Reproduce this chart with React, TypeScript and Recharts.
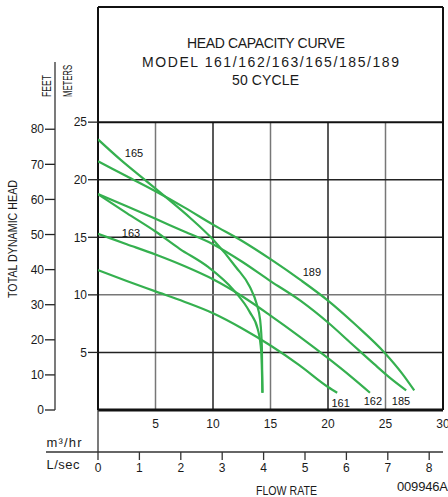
import { LineChart, Line, XAxis, YAxis, ReferenceLine, ReferenceDot } from 'recharts';

const M3_PER_LS = 3.6;
const FT_PER_M = 3.28084;
const TOP_M = 35; // meters at top of the title box

const flowTicks = [5, 10, 15, 20, 25, 30];
const litreTicks = [0, 1, 2, 3, 4, 5, 6, 7, 8];
const meterTicks = [5, 10, 15, 20, 25];
const feetTicks = [0, 10, 20, 30, 40, 50, 60, 70, 80];
const gridFlow = [5, 10, 15, 20, 25];
const gridHead = [5, 10, 15, 20];

// flow m3/hr -> head m
const model165 = [
  { x: 0, y: 23.5 }, { x: 2, y: 21.7 }, { x: 4, y: 20.05 }, { x: 6, y: 18.4 },
  { x: 8, y: 16.7 }, { x: 10, y: 14.8 }, { x: 12, y: 12.4 }, { x: 13.2, y: 10.7 },
  { x: 13.8, y: 9.2 }, { x: 14.1, y: 7.8 }, { x: 14.25, y: 5.5 }, { x: 14.3, y: 1.5 },
];
const model163 = [
  { x: 0, y: 18.75 }, { x: 2.5, y: 17.1 }, { x: 5, y: 15.5 }, { x: 7.1, y: 14.0 },
  { x: 9.6, y: 12.4 }, { x: 11.8, y: 10.4 }, { x: 13.2, y: 8.5 }, { x: 13.9, y: 7.0 },
  { x: 14.2, y: 5.0 }, { x: 14.3, y: 1.5 },
];
const model189 = [
  { x: 0, y: 21.6 }, { x: 2.5, y: 20.3 }, { x: 5, y: 19.0 }, { x: 7.5, y: 17.6 },
  { x: 10, y: 16.1 }, { x: 12.5, y: 14.7 }, { x: 15, y: 13.1 }, { x: 17.6, y: 11.3 },
  { x: 20, y: 9.5 }, { x: 22.4, y: 7.4 }, { x: 24.9, y: 5.0 }, { x: 26.5, y: 3.1 },
  { x: 27.5, y: 1.7 },
];
const model185 = [
  { x: 0, y: 18.75 }, { x: 2.5, y: 17.7 }, { x: 5, y: 16.6 }, { x: 7.5, y: 15.5 },
  { x: 10, y: 14.4 }, { x: 12.5, y: 12.9 }, { x: 15, y: 11.2 }, { x: 17.6, y: 9.5 },
  { x: 20, y: 7.6 }, { x: 22, y: 5.8 }, { x: 24, y: 4.0 }, { x: 25.5, y: 2.7 },
  { x: 26.8, y: 1.7 },
];
const model162 = [
  { x: 0, y: 15.3 }, { x: 2.5, y: 14.4 }, { x: 5, y: 13.5 }, { x: 7.5, y: 12.5 },
  { x: 10, y: 11.35 }, { x: 12.5, y: 9.9 }, { x: 15, y: 8.2 }, { x: 17.5, y: 6.4 },
  { x: 20, y: 4.5 }, { x: 22, y: 2.9 }, { x: 23.65, y: 1.5 },
];
const model161 = [
  { x: 0, y: 12.15 }, { x: 2.5, y: 11.2 }, { x: 5, y: 10.3 }, { x: 7.5, y: 9.4 },
  { x: 10, y: 8.4 }, { x: 12.5, y: 7.1 }, { x: 15, y: 5.6 }, { x: 17.5, y: 3.9 },
  { x: 20, y: 2.0 }, { x: 20.8, y: 1.5 },
];

const curves = [
  { name: '165', data: model165 },
  { name: '163', data: model163 },
  { name: '189', data: model189 },
  { name: '185', data: model185 },
  { name: '162', data: model162 },
  { name: '161', data: model161 },
];

const curveLabels = [
  { text: '165', x: 3.13, y: 22.3 },
  { text: '163', x: 2.87, y: 15.4 },
  { text: '189', x: 18.6, y: 12.0 },
  { text: '161', x: 21.1, y: 0.6 },
  { text: '162', x: 23.9, y: 0.8 },
  { text: '185', x: 26.35, y: 0.8 },
];

// spans the secondary (L/sec, feet) scales so those axes get a domain
const secondaryRange = [
  { x: 0, y: 0 },
  { x: 30 / M3_PER_LS, y: TOP_M * FT_PER_M },
];

const GREEN = '#35b04f';
const font = "'Liberation Sans', Arial, sans-serif";
const tickStyle = { fontSize: 12, fill: '#1a1a1a', fontFamily: font };

export default function App() {
  return (
    <div style={{ position: 'absolute', left: 0, top: 0, width: 448, height: 497, background: '#fff' }}>
      <LineChart width={448} height={497} margin={{ top: 7, right: 5, left: 0, bottom: 15 }}>
        <XAxis
          xAxisId="b"
          type="number"
          dataKey="x"
          domain={[0, 30 / M3_PER_LS]}
          ticks={litreTicks}
          interval={0}
          allowDataOverflow
          height={30}
          axisLine={{ stroke: '#333', strokeWidth: 1.3 }}
          tickLine={{ stroke: '#333', strokeWidth: 1.3 }}
          tickSize={8}
          tickMargin={3}
          tick={tickStyle}
        />
        <XAxis
          xAxisId="a"
          type="number"
          dataKey="x"
          domain={[0, 30]}
          ticks={flowTicks}
          interval={0}
          allowDataOverflow
          height={42}
          axisLine={false}
          tickLine={false}
          tickSize={0}
          tickMargin={9}
          tick={tickStyle}
        />
        <YAxis
          yAxisId="b"
          type="number"
          domain={[0, TOP_M * FT_PER_M]}
          ticks={feetTicks}
          interval={0}
          allowDataOverflow
          width={55}
          axisLine={false}
          tickLine={{ stroke: '#222', strokeWidth: 1.3 }}
          tickSize={10}
          tickMargin={1}
          tick={tickStyle}
        />
        <YAxis
          yAxisId="a"
          type="number"
          domain={[0, TOP_M]}
          ticks={meterTicks}
          interval={0}
          allowDataOverflow
          width={43}
          axisLine={false}
          tickLine={{ stroke: '#222', strokeWidth: 1.3 }}
          tickSize={10}
          tickMargin={1}
          tick={tickStyle}
        />

        <Line
          xAxisId="b"
          yAxisId="b"
          data={secondaryRange}
          dataKey="y"
          stroke="none"
          dot={false}
          activeDot={false}
          isAnimationActive={false}
        />

        {gridFlow.map((v) => (
          <ReferenceLine
            key={'gx' + v}
            xAxisId="a"
            yAxisId="a"
            segment={[{ x: v, y: 0 }, { x: v, y: 25 }]}
            stroke={v % 10 === 0 ? '#222' : '#777'}
            strokeWidth={1.5}
          />
        ))}
        {gridHead.map((v) => (
          <ReferenceLine
            key={'gy' + v}
            xAxisId="a"
            yAxisId="a"
            y={v}
            stroke={v === 10 ? '#777' : '#222'}
            strokeWidth={1.5}
          />
        ))}
        <ReferenceLine xAxisId="a" yAxisId="a" y={25} stroke="#111" strokeWidth={2} />
        <ReferenceLine xAxisId="a" yAxisId="a" y={TOP_M} stroke="#111" strokeWidth={2} />
        <ReferenceLine xAxisId="a" yAxisId="a" y={0} stroke="#111" strokeWidth={3} />
        <ReferenceLine xAxisId="a" yAxisId="a" x={0} stroke="#111" strokeWidth={2} />
        <ReferenceLine xAxisId="a" yAxisId="a" x={30} stroke="#111" strokeWidth={2} />

        {curves.map((c) => (
          <Line
            key={c.name}
            xAxisId="a"
            yAxisId="a"
            data={c.data}
            dataKey="y"
            type="monotone"
            stroke={GREEN}
            strokeWidth={2.2}
            dot={false}
            activeDot={false}
            isAnimationActive={false}
          />
        ))}

        {curveLabels.map((l) => (
          <ReferenceDot
            key={'lbl' + l.text}
            xAxisId="a"
            yAxisId="a"
            x={l.x}
            y={l.y}
            r={0}
            stroke="none"
            fill="none"
            label={{ value: l.text, position: 'center', fontSize: 11, fill: '#111', fontFamily: font }}
          />
        ))}
      </LineChart>

      <svg
        width={448}
        height={497}
        style={{ position: 'absolute', left: 0, top: 0, pointerEvents: 'none' }}
        fontFamily={font}
        fill="#1a1a1a"
      >
        <line x1={55} y1={62} x2={55} y2={410} stroke="#333" strokeWidth={1.3} />
        <line x1={46} y1={452} x2={98} y2={452} stroke="#333" strokeWidth={1.3} />
        <line x1={98} y1={410} x2={98} y2={452} stroke="#333" strokeWidth={1.3} />

        <text x={187} y={48} fontSize={14} textLength={158}>HEAD CAPACITY CURVE</text>
        <text x={142} y={66.5} fontSize={14} textLength={257}>MODEL 161/162/163/165/185/189</text>
        <text x={232} y={85} fontSize={14} textLength={67}>50 CYCLE</text>

        <text transform="translate(50.5,97) rotate(-90)" fontSize={13} textLength={22} lengthAdjust="spacingAndGlyphs">FEET</text>
        <text transform="translate(71.5,97) rotate(-90)" fontSize={13} textLength={32} lengthAdjust="spacingAndGlyphs">METERS</text>
        <text transform="translate(17,298) rotate(-90)" fontSize={13} textLength={118} lengthAdjust="spacingAndGlyphs">TOTAL DYNAMIC HEAD</text>

        <text x={46.5} y={447} fontSize={13} textLength={35}>m³/hr</text>
        <text x={46.5} y={469} fontSize={13} textLength={33}>L/sec</text>
        <text x={256} y={495} fontSize={13} textLength={61} lengthAdjust="spacingAndGlyphs">FLOW RATE</text>
        <text x={397} y={491} fontSize={13} textLength={51}>009946A</text>
      </svg>
    </div>
  );
}
